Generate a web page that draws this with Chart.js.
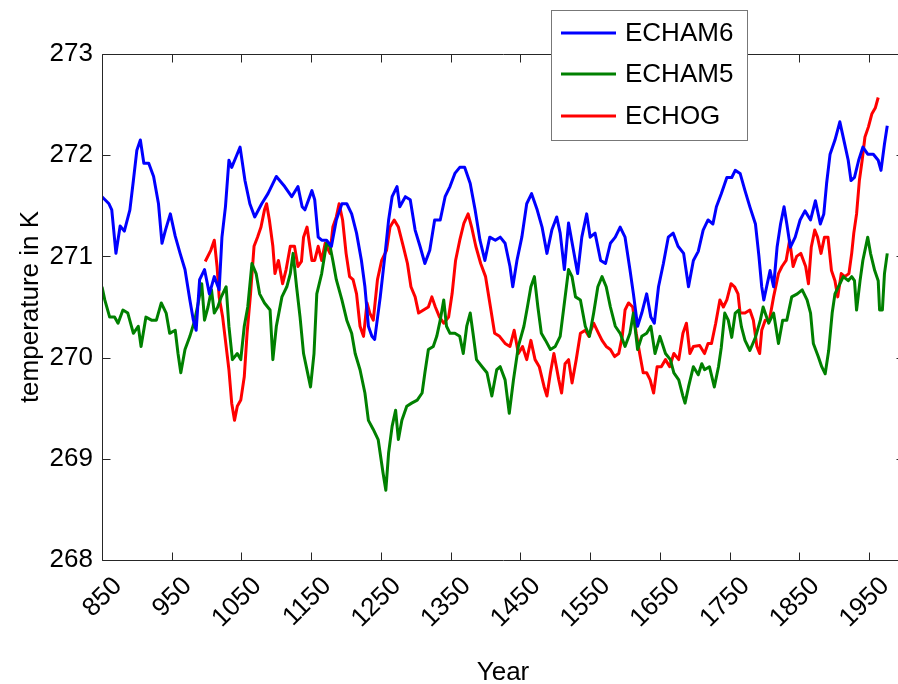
<!DOCTYPE html>
<html><head><meta charset="utf-8">
<script src="https://cdn.jsdelivr.net/npm/chart.js@4.4.0/dist/chart.umd.min.js"></script>
<style>html,body{margin:0;padding:0;overflow:hidden;background:#fff}#wrap{width:924px;height:684px}</style>
</head><body><div id="wrap"><canvas id="c" width="924" height="684"></canvas></div>
<script>
const xTickYears = [850,950,1050,1150,1250,1350,1450,1550,1650,1750,1850,1950];
const yTickTemps = [268,269,270,271,272,273];
const seriesNames = ['ECHAM6','ECHAM5','ECHOG'];
const xTitle = 'Year';
const yTitle = 'temperature in K';

const echam6Years = [850,860,864,870,876,882,890,895,900,905,910,917,924,931,936,941,948,955,962,969,976,981,985,990,997,1004,1011,1018,1022,1027,1032,1036,1042,1048,1055,1062,1069,1079,1088,1100,1112,1122,1131,1137,1141,1151,1155,1160,1165,1172,1179,1186,1194,1201,1208,1215,1222,1227,1232,1237,1241,1249,1256,1261,1266,1273,1277,1285,1292,1299,1306,1313,1320,1327,1335,1342,1349,1356,1363,1370,1378,1385,1392,1399,1406,1414,1421,1428,1435,1439,1445,1452,1459,1466,1474,1481,1488,1495,1502,1507,1513,1519,1525,1532,1538,1545,1550,1557,1565,1572,1579,1586,1593,1600,1607,1612,1618,1624,1631,1637,1642,1648,1655,1662,1669,1676,1684,1691,1698,1705,1712,1719,1726,1731,1738,1746,1753,1758,1765,1772,1779,1787,1792,1796,1799,1803,1808,1813,1818,1823,1828,1832,1837,1844,1851,1858,1866,1873,1880,1885,1889,1894,1901,1908,1915,1920,1924,1929,1935,1941,1948,1956,1963,1967,1972,1976];
const echam6Temp = [271.59,271.52,271.46,271.03,271.30,271.25,271.46,271.75,272.05,272.15,271.92,271.92,271.79,271.52,271.13,271.26,271.42,271.20,271.03,270.87,270.57,270.37,270.27,270.77,270.87,270.63,270.80,270.67,271.19,271.49,271.95,271.88,271.98,272.08,271.75,271.52,271.39,271.52,271.62,271.79,271.69,271.59,271.69,271.49,271.46,271.65,271.56,271.19,271.16,271.16,271.10,271.36,271.52,271.52,271.42,271.23,270.96,270.70,270.31,270.21,270.18,270.60,271.03,271.36,271.59,271.69,271.49,271.59,271.56,271.26,271.10,270.93,271.06,271.36,271.36,271.59,271.69,271.82,271.88,271.88,271.72,271.46,271.16,270.96,271.19,271.16,271.19,271.13,270.90,270.70,270.96,271.19,271.52,271.62,271.46,271.29,271.03,271.26,271.39,271.23,270.87,271.33,271.10,270.83,271.19,271.42,271.19,271.23,270.96,270.93,271.13,271.19,271.29,271.19,270.87,270.63,270.31,270.44,270.63,270.40,270.34,270.70,270.93,271.19,271.23,271.10,271.03,270.70,270.96,271.05,271.26,271.36,271.32,271.49,271.62,271.78,271.78,271.85,271.82,271.65,271.49,271.32,271.00,270.70,270.57,270.70,270.86,270.70,271.09,271.32,271.49,271.32,271.09,271.19,271.36,271.45,271.36,271.55,271.32,271.42,271.72,272.01,272.15,272.33,272.11,271.95,271.75,271.78,271.95,272.08,272.01,272.01,271.95,271.85,272.11,272.29];

const echam5Years = [850,854,861,868,873,880,887,895,902,906,913,921,928,935,942,947,955,959,963,969,976,983,988,993,997,1002,1007,1011,1016,1021,1028,1032,1037,1044,1049,1054,1059,1065,1071,1076,1083,1091,1095,1100,1108,1115,1120,1124,1129,1134,1139,1146,1149,1154,1158,1165,1172,1177,1181,1186,1194,1201,1208,1213,1220,1227,1232,1239,1246,1253,1257,1261,1266,1271,1275,1280,1287,1294,1302,1309,1313,1318,1325,1330,1335,1340,1344,1349,1356,1363,1368,1373,1378,1382,1387,1395,1402,1409,1416,1421,1428,1434,1440,1447,1455,1460,1465,1470,1475,1480,1486,1493,1500,1507,1513,1519,1524,1529,1536,1543,1549,1555,1561,1567,1573,1579,1586,1593,1600,1607,1612,1618,1624,1631,1637,1643,1650,1658,1665,1670,1677,1683,1686,1691,1698,1705,1710,1714,1721,1728,1734,1738,1743,1748,1753,1758,1763,1767,1772,1779,1787,1794,1798,1806,1813,1820,1826,1832,1839,1847,1854,1861,1866,1870,1877,1882,1887,1892,1897,1901,1906,1913,1920,1925,1929,1932,1937,1941,1948,1952,1958,1963,1965,1969,1972,1976];
const echam5Temp = [270.70,270.57,270.40,270.40,270.34,270.47,270.44,270.24,270.31,270.11,270.40,270.37,270.37,270.54,270.44,270.24,270.27,270.04,269.85,270.08,270.21,270.37,270.54,270.73,270.37,270.50,270.67,270.44,270.50,270.60,270.70,270.31,269.98,270.04,269.98,270.31,270.50,270.93,270.83,270.63,270.54,270.47,269.98,270.31,270.60,270.70,270.83,271.03,270.70,270.40,270.04,269.81,269.71,270.04,270.63,270.83,271.13,271.10,270.96,270.77,270.57,270.37,270.24,270.04,269.88,269.65,269.38,269.29,269.19,268.86,268.69,269.06,269.32,269.48,269.19,269.38,269.52,269.55,269.58,269.65,269.85,270.08,270.11,270.21,270.37,270.57,270.31,270.24,270.24,270.21,270.04,270.31,270.44,270.24,269.98,269.91,269.85,269.62,269.88,269.91,269.78,269.45,269.78,270.11,270.31,270.50,270.70,270.80,270.50,270.24,270.17,270.08,270.11,270.21,270.54,270.87,270.80,270.60,270.57,270.31,270.21,270.44,270.70,270.80,270.70,270.50,270.31,270.24,270.11,270.24,270.44,270.08,270.21,270.24,270.31,270.04,270.21,270.04,269.98,269.85,269.78,269.62,269.55,269.71,269.91,269.83,269.94,269.88,269.91,269.71,269.91,270.10,270.44,270.37,270.20,270.44,270.47,270.30,270.17,270.07,270.20,270.37,270.50,270.34,270.44,270.14,270.37,270.37,270.60,270.63,270.67,270.57,270.44,270.14,270.01,269.91,269.84,270.07,270.44,270.63,270.70,270.80,270.76,270.80,270.76,270.47,270.76,270.96,271.19,271.03,270.86,270.76,270.47,270.47,270.83,271.03];

const echogYears = [998,1006,1011,1015,1018,1023,1027,1032,1036,1040,1044,1049,1054,1058,1063,1068,1073,1078,1083,1086,1090,1095,1098,1103,1109,1114,1120,1126,1131,1136,1139,1144,1151,1155,1160,1165,1170,1177,1181,1186,1190,1195,1200,1205,1210,1215,1220,1225,1230,1234,1239,1245,1251,1258,1263,1269,1275,1282,1288,1293,1299,1304,1311,1318,1323,1328,1334,1340,1347,1352,1357,1363,1369,1375,1380,1386,1393,1400,1407,1413,1420,1428,1435,1441,1447,1453,1459,1465,1471,1477,1484,1488,1493,1498,1505,1509,1514,1519,1524,1530,1536,1543,1548,1555,1562,1567,1573,1579,1585,1591,1596,1600,1605,1611,1616,1621,1626,1631,1636,1641,1646,1652,1658,1664,1670,1677,1683,1688,1693,1698,1707,1714,1719,1724,1730,1736,1741,1746,1752,1757,1762,1765,1772,1779,1784,1789,1793,1796,1801,1807,1813,1820,1825,1831,1836,1841,1846,1852,1859,1863,1867,1872,1876,1881,1886,1891,1896,1901,1905,1910,1915,1921,1925,1928,1932,1936,1940,1944,1949,1954,1959,1963];
const echogTemp = [270.95,271.06,271.16,270.90,270.60,270.40,270.17,269.88,269.55,269.38,269.52,269.58,269.81,270.24,270.63,271.10,271.19,271.29,271.46,271.52,271.36,271.10,270.83,270.96,270.73,270.87,271.10,271.10,270.90,270.95,271.19,271.29,270.96,270.96,271.10,270.96,271.13,271.03,271.29,271.39,271.52,271.36,271.03,270.80,270.77,270.63,270.31,270.21,270.54,270.44,270.37,270.77,270.96,271.06,271.29,271.36,271.29,271.10,270.93,270.70,270.60,270.44,270.47,270.50,270.60,270.50,270.40,270.34,270.40,270.63,270.96,271.16,271.33,271.42,271.29,271.10,270.93,270.80,270.50,270.24,270.21,270.14,270.11,270.27,270.04,270.11,269.98,270.17,269.98,269.91,269.71,269.62,269.85,270.04,269.78,269.65,269.94,269.98,269.75,269.98,270.24,270.27,270.21,270.34,270.24,270.17,270.11,270.08,270.01,270.04,270.21,270.47,270.54,270.50,270.24,270.04,269.85,269.85,269.78,269.65,269.91,269.91,269.98,269.91,270.04,269.98,270.24,270.34,270.04,270.11,270.12,270.04,270.14,270.14,270.34,270.57,270.50,270.57,270.73,270.70,270.63,270.44,270.44,270.47,270.37,270.11,270.04,270.27,270.37,270.37,270.60,270.83,270.90,270.96,271.16,270.90,271.00,271.03,270.90,270.73,271.09,271.26,271.19,271.03,271.19,271.19,270.86,270.76,270.60,270.83,270.80,270.83,271.03,271.23,271.42,271.75,271.95,272.18,272.28,272.41,272.47,272.57];

const seriesColors = ['#0000ff','#008000','#ff0000'];
const FONT = "'Liberation Sans', Arial, Helvetica, sans-serif";
const AXIS = '#262626';

function pts(xs, ys){ return xs.map((x,i)=>({x:x, y:ys[i]})); }

const boxPlugin = {
  id:'box',
  afterDatasetsDraw(chart){
    const ctx = chart.ctx, a = chart.chartArea;
    const xs = chart.scales.x, ys = chart.scales.y;
    ctx.save();
    ctx.strokeStyle = AXIS; ctx.lineWidth = 1;
    const L = Math.round(a.left)+0.5, R = Math.round(a.right)+0.5, T = Math.round(a.top)+0.5, B = Math.round(a.bottom)+0.5;
    ctx.beginPath();
    ctx.moveTo(L,T); ctx.lineTo(R,T); ctx.lineTo(R,B); ctx.lineTo(L,B); ctx.closePath();
    ctx.stroke();
    const tl = 8;
    ctx.beginPath();
    xs.ticks.forEach(t=>{
      const px = Math.round(xs.getPixelForValue(t.value))+0.5;
      ctx.moveTo(px,B); ctx.lineTo(px,B-tl);
      ctx.moveTo(px,T); ctx.lineTo(px,T+tl);
    });
    ys.ticks.forEach(t=>{
      const py = Math.round(ys.getPixelForValue(t.value))+0.5;
      ctx.moveTo(L,py); ctx.lineTo(L+tl,py);
      ctx.moveTo(R,py); ctx.lineTo(R-tl,py);
    });
    ctx.stroke();
    ctx.restore();
  },
  afterDraw(chart){
    const ctx = chart.ctx;
    ctx.save();
    const bx=551.5, by=10.5, bw=196, bh=130;
    ctx.fillStyle='#fff'; ctx.fillRect(bx,by,bw,bh);
    ctx.strokeStyle='#777'; ctx.lineWidth=1; ctx.strokeRect(bx,by,bw,bh);
    const rows=[33,74,116];
    ctx.font = "26px "+FONT; ctx.textBaseline='middle'; ctx.textAlign='left';
    chart.data.datasets.forEach((d,i)=>{
      ctx.strokeStyle=d.borderColor; ctx.lineWidth=3;
      ctx.beginPath(); ctx.moveTo(561,rows[i]); ctx.lineTo(616,rows[i]); ctx.stroke();
      ctx.fillStyle='#000'; ctx.fillText(d.label,625,rows[i]+1);
    });
    ctx.restore();
  }
};

new Chart(document.getElementById('c'), {
  type:'line',
  data:{datasets:[
    {label:seriesNames[0], data:pts(echam6Years,echam6Temp), borderColor:seriesColors[0]},
    {label:seriesNames[1], data:pts(echam5Years,echam5Temp), borderColor:seriesColors[1]},
    {label:seriesNames[2], data:pts(echogYears,echogTemp), borderColor:seriesColors[2]}
  ]},
  options:{
    responsive:false, animation:false, devicePixelRatio:1,
    parsing:false,
    elements:{line:{borderWidth:3, tension:0, fill:false, borderJoinStyle:'round'}, point:{radius:0}},
    layout:{padding:{top:54,right:20,left:0,bottom:0}},
    plugins:{legend:{display:false}, tooltip:{enabled:false}},
    scales:{
      x:{type:'linear', min:850, max:2000,
        afterFit(s){ s.height = 124; },
        afterBuildTicks(s){ s.ticks = xTickYears.map(v=>({value:v})); },
        grid:{display:false}, border:{display:false},
        ticks:{autoSkip:false, minRotation:45, maxRotation:45, labelOffset:16, padding:3, color:'#000',
          font:{family:FONT, size:26}, callback:(v)=>String(v)},
        title:{display:true, text:xTitle, color:'#000', font:{family:FONT, size:26, lineHeight:1}, padding:{top:0,bottom:-2}}
      },
      y:{type:'linear', min:268, max:273,
        afterFit(s){ s.width = 102; },
        afterBuildTicks(s){ s.ticks = yTickTemps.map(v=>({value:v})); },
        grid:{display:false}, border:{display:false},
        ticks:{padding:1, color:'#000', font:{family:FONT, size:26}, callback:(v)=>String(v)},
        title:{display:true, text:yTitle, color:'#000', font:{family:FONT, size:26, lineHeight:1}, padding:{top:18,bottom:0}}
      }
    }
  },
  plugins:[boxPlugin]
});
</script></body></html>
